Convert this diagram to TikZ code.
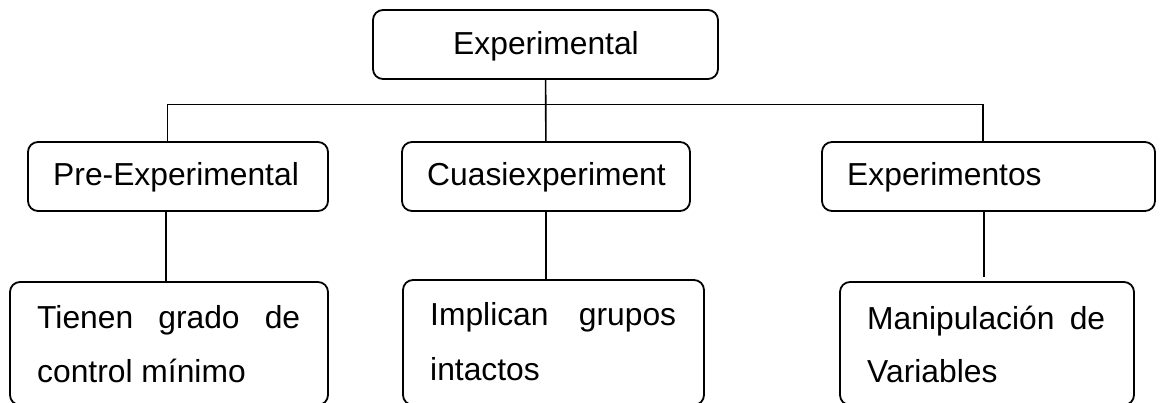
\documentclass[tikz,border=0pt]{standalone}
\usepackage{fontspec}
\setmainfont{Liberation Sans}
\begin{document}
\begin{tikzpicture}[x=1pt,y=-1pt,
  box/.style={draw,line width=1.8pt,rounded corners=10pt,inner sep=0pt,
    minimum width=#1},
  headbox/.style={box=#1,minimum height=69pt},
  notebox/.style={box=#1,minimum height=123pt},
  label/.style={inner sep=0pt,anchor=base west,font=\fontsize{31.8}{38}\selectfont},
  link/.style={line width=1.6pt}]
\useasboundingbox (0,0) rectangle (1161,403);

% boxes
\node[headbox=345pt] (top)   at (545.5,44.5) {};
\node[headbox=300pt] (pre)   at (178,176.5) {};
\node[headbox=288pt] (cuasi) at (546,176.5) {};
\node[headbox=333pt] (exps)  at (988.5,176.5) {};
\node[notebox=318pt] (preb)   at (169,343.5) {};
\node[box=301pt,minimum height=125pt] (cuasib) at (553.5,342.5) {};
\node[notebox=294pt] (expsb)  at (987,343.5) {};

% texts
\node[label,anchor=base] (ttop) at (546,55) {Experimental};
\node[label] (tpre)   at (53,186)  {Pre-Experimental};
\node[label] (tcuasi) at (427,186) {Cuasiexperiment};
\node[label] (texps)  at (847,186) {Experimentos};
\node[label] (tpre1)  at (37,328)  {\hbox to 263pt{Tienen\hfill grado\hfill de}};
\node[label] (tpre2)  at (37,382)  {control mínimo};
\node[label] (tcua1)  at (430,325) {\hbox to 246pt{Implican\hfill grupos}};
\node[label] (tcua2)  at (430,380) {intactos};
\node[label] (texp1)  at (867,329) {\hbox to 238pt{Manipulación\hfill de}};
\node[label] (texp2)  at (867,382) {Variables};

% connectors
\coordinate (busL) at (167.5,104.5);
\coordinate (busR) at (983,104.5);
\coordinate (expsEnd) at (984,277);
\draw[link] (busL) -- (busR);
\draw[link] (top) -- (cuasi);
\draw[link] (busL) -- (busL |- pre.north);
\draw[link] (busR) -- (busR |- exps.north);
\draw[link] ([xshift=-12pt]pre.south) -- ([xshift=-12pt]pre.south |- preb.north);
\draw[link] (cuasi) -- (cuasib.north -| cuasi.south);
\draw[link] ([xshift=-4.5pt]exps.south) -- (expsEnd);
\end{tikzpicture}
\end{document}
